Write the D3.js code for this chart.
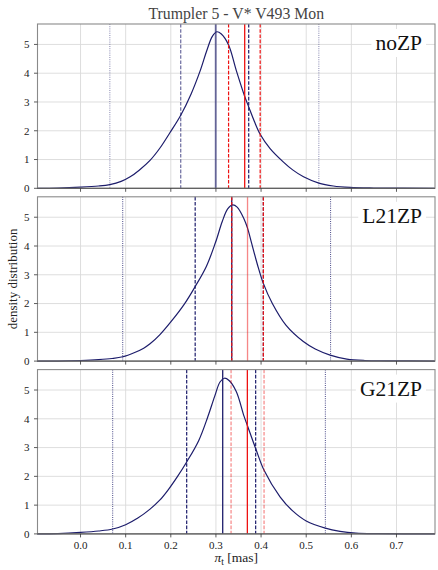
<!DOCTYPE html>
<html><head><meta charset="utf-8">
<script src="https://cdn.jsdelivr.net/npm/d3@7/dist/d3.min.js"></script>
<style>body{margin:0;background:#fff}text{font-family:"Liberation Serif","DejaVu Serif",serif}</style>
</head><body><svg id="c" width="438" height="570"></svg>
<script>
// ---- data ----
const panelNames = ["noZP", "L21ZP", "G21ZP"];
const xTicks = [0.0, 0.1, 0.2, 0.3, 0.4, 0.5, 0.6, 0.7];
const yTicks = [0, 1, 2, 3, 4, 5];

const noZP_x = [-0.096,-0.05,0.0,0.04,0.065,0.09,0.11,0.13,0.154,0.176,0.198,0.222,0.245,0.265,0.28,0.292,0.302,0.312,0.328,0.345,0.364,0.3726,0.385,0.398,0.42,0.449,0.47,0.494,0.528,0.56,0.597,0.65,0.785];
const noZP_d = [0.0,0.01,0.04,0.08,0.13,0.24,0.40,0.63,0.97,1.40,1.93,2.54,3.28,4.08,4.80,5.28,5.44,5.36,4.98,4.1,3.18,2.83,2.33,1.88,1.38,0.92,0.64,0.40,0.18,0.08,0.03,0.01,0.0];

const L21ZP_x = [-0.096,-0.05,0.0,0.04,0.07,0.0935,0.12,0.14,0.154,0.176,0.2,0.23,0.254,0.279,0.299,0.314,0.326,0.337,0.347,0.362,0.370,0.379,0.392,0.405,0.425,0.455,0.4936,0.52,0.553,0.59,0.63,0.68,0.785];
const L21ZP_d = [0.0,0.0,0.02,0.05,0.09,0.15,0.30,0.45,0.6,0.92,1.36,1.98,2.59,3.3,4.12,4.85,5.29,5.43,5.35,4.95,4.62,4.1,3.35,2.70,2.0,1.25,0.68,0.42,0.21,0.07,0.02,0.01,0.0];

const G21ZP_x = [-0.096,-0.05,0.0,0.04,0.0713,0.1,0.127,0.154,0.176,0.195,0.215,0.2352,0.262,0.282,0.297,0.309,0.3186,0.329,0.345,0.362,0.3696,0.388,0.4066,0.442,0.47,0.50,0.5424,0.575,0.61,0.66,0.785];
const G21ZP_d = [0.0,0.01,0.05,0.1,0.17,0.32,0.55,0.86,1.18,1.55,2.0,2.50,3.25,4.07,4.77,5.28,5.41,5.33,4.95,4.1,3.77,2.97,2.21,1.29,0.8,0.45,0.2,0.09,0.03,0.01,0.0];

// vertical reference values per panel (noZP, L21ZP, G21ZP)
const dottedLo  = [0.065, 0.0935, 0.0713];
const dottedHi  = [0.528, 0.554, 0.5424];
const dashedLo  = [0.222, 0.254, 0.2352];
const dashedHi  = [0.3726, 0.405, 0.388];
const modeVal   = [0.2995, 0.335, 0.315];
const refVal    = [0.3637, 0.370, 0.3696];
const refLo     = [0.328, 0.335, 0.3335];
const refHi     = [0.398, 0.405, 0.4066];

const curvesX = [noZP_x, L21ZP_x, G21ZP_x];
const curvesD = [noZP_d, L21ZP_d, G21ZP_d];

// ---- layout / style ----
const svg = d3.select("#c");
const L = 37.5, R = 435, top0 = 24, H = 164.3, GAP = 8.5;
const navy = "#1c1c6b";
const navyOp = [0.65, 1, 1];
const refSolidOp = [1, 0.5, 1];
const refDashOp = [1, 1, 0.5];

const x = d3.scaleLinear().domain([-0.0953, 0.7853]).range([L, R]);

svg.append("text").attr("x", (L + R) / 2).attr("y", 19).attr("text-anchor", "middle")
  .attr("font-size", 15.8).attr("fill", "#444").text("Trumpler 5 - V* V493 Mon");

panelNames.forEach((name, i) => {
  const t = top0 + i * (H + GAP), b = t + H;
  const y = d3.scaleLinear().domain([0, 5.71]).range([b, t]);
  const g = svg.append("g");

  // grid
  g.selectAll(".gx").data(xTicks).enter().append("line")
    .attr("x1", d => x(d)).attr("x2", d => x(d)).attr("y1", t).attr("y2", b)
    .attr("stroke", "#dadada").attr("stroke-width", 0.9);
  g.selectAll(".gy").data(yTicks).enter().append("line")
    .attr("x1", L).attr("x2", R).attr("y1", d => y(d)).attr("y2", d => y(d))
    .attr("stroke", "#dadada").attr("stroke-width", 0.9);

  // label with white box
  const lab = g.append("text").attr("x", 422).attr("y", t + 26).attr("text-anchor", "end")
    .attr("font-size", 21.5).attr("fill", "#111").text(name);
  const bb = lab.node().getBBox();
  g.insert("rect", "text").attr("x", bb.x - 4).attr("y", bb.y - 2).attr("width", bb.width + 8)
    .attr("height", bb.height + 4).attr("fill", "#fff");

  // curve
  const pts = curvesX[i].map((v, k) => [v, curvesD[i][k]]);
  g.append("path").datum(pts)
    .attr("d", d3.line().x(d => x(d[0])).y(d => y(Math.max(0, d[1]))).curve(d3.curveCatmullRom.alpha(0.5)))
    .attr("fill", "none").attr("stroke", navy).attr("stroke-width", 1.2);

  const vline = (v, color, dash, w, op) => g.append("line")
    .attr("x1", x(v)).attr("x2", x(v)).attr("y1", t).attr("y2", b)
    .attr("stroke", color).attr("stroke-width", w).attr("stroke-dasharray", dash)
    .attr("opacity", op);

  vline(dottedLo[i], navy, "1,1.2", 1, navyOp[i] * 0.8);
  vline(dottedHi[i], navy, "1,1.2", 1, navyOp[i] * 0.8);
  vline(dashedLo[i], navy, "3.6,1.6", 1.2, navyOp[i]);
  vline(dashedHi[i], navy, "3.6,1.6", 1.2, i === 0 ? 1 : navyOp[i]);
  vline(modeVal[i], navy, null, i === 0 ? 1.8 : 1.3, navyOp[i]);
  vline(refVal[i], "#ee1111", null, 1.3, refSolidOp[i]);
  vline(refLo[i], "#ee1111", "3.6,1.6", 1.2, refDashOp[i]);
  vline(refHi[i], "#ee1111", "3.6,1.6", 1.2, refDashOp[i]);

  // spines
  g.append("rect").attr("x", L).attr("y", t).attr("width", R - L).attr("height", H)
    .attr("fill", "none").attr("stroke", "#8a8a8a").attr("stroke-width", 1.1);
  g.append("line").attr("x1", L).attr("x2", R).attr("y1", b).attr("y2", b)
    .attr("stroke", "#555").attr("stroke-width", 1);

  // ticks
  g.selectAll(".tx").data(xTicks).enter().append("line")
    .attr("x1", d => x(d)).attr("x2", d => x(d)).attr("y1", b).attr("y2", b + 3.5)
    .attr("stroke", "#333").attr("stroke-width", 0.8);
  g.selectAll(".ty").data(yTicks).enter().append("line")
    .attr("x1", L - 3.5).attr("x2", L).attr("y1", d => y(d)).attr("y2", d => y(d))
    .attr("stroke", "#333").attr("stroke-width", 0.8);
  g.selectAll(".tyl").data(yTicks).enter().append("text")
    .attr("x", L - 8).attr("y", d => y(d) + 3.8).attr("text-anchor", "end")
    .attr("font-size", 11).attr("fill", "#222").text(d => d);

  if (i === 2) {
    g.selectAll(".txl").data(xTicks).enter().append("text")
      .attr("x", d => x(d)).attr("y", b + 15).attr("text-anchor", "middle")
      .attr("font-size", 11).attr("fill", "#222").text(d => d.toFixed(1));
  }
  if (i === 1) {
    svg.append("text").attr("transform", `translate(17,${(t + b) / 2}) rotate(-90)`)
      .attr("text-anchor", "middle").attr("font-size", 13).attr("fill", "#222")
      .text("density distribution");
  }
});

// x label
const xl = svg.append("text").attr("x", (L + R) / 2).attr("y", 562).attr("text-anchor", "middle")
  .attr("font-size", 13.5).attr("fill", "#222");
xl.append("tspan").attr("font-style", "italic").text("π");
xl.append("tspan").attr("font-size", 9.5).attr("dy", 2.5).text("t");
xl.append("tspan").attr("dy", -2.5).text(" [mas]");
</script></body></html>
